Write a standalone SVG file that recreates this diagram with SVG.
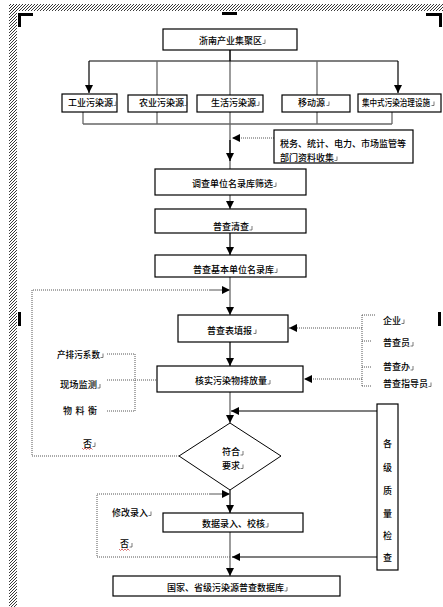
<svg xmlns="http://www.w3.org/2000/svg" width="443" height="607" viewBox="0 0 443 607">
<defs>
<pattern id="hatch" patternUnits="userSpaceOnUse" width="3" height="3">
<path d="M-1,1 L1,-1 M0,3 L3,0 M2,4 L4,2" stroke="#222" stroke-width="0.9"/>
</pattern>
<marker id="ah" viewBox="0 0 10 10" refX="10" refY="5" markerWidth="9" markerHeight="8" markerUnits="userSpaceOnUse" orient="auto">
<path d="M0,0 L10,5 L0,10 z" fill="#000"/>
</marker>
<path id="pm" d="M0,-4 V0 H-2.5" fill="none" stroke="#444" stroke-width="0.7"/>
<path id="wavy" d="M0,0 l1.5,1.5 l1.5,-1.5 l1.5,1.5 l1.5,-1.5 l1.5,1.5 l1.5,-1.5 l1.5,1.5" fill="none" stroke="#c33" stroke-width="0.7"/>
</defs>
<style>
.box{fill:#fff;stroke:#000;stroke-width:1.2}
.t{font-family:"Noto Sans CJK SC","Noto Sans",sans-serif;font-size:9px;font-weight:500;fill:#000}
.ln{fill:none;stroke:#000;stroke-width:1.2}
.gl{fill:none;stroke:#666;stroke-width:1.3}
.dt{fill:none;stroke:#555;stroke-width:1;stroke-dasharray:1 1}
</style>
<rect width="443" height="607" fill="#fff"/>
<g id="page-frame">
<rect x="10" y="4" width="433" height="7" fill="url(#hatch)"/>
<rect x="9" y="4" width="8" height="603" fill="url(#hatch)"/>
<rect x="18" y="13" width="15" height="3" fill="#000"/>
<rect x="18" y="13" width="3" height="14" fill="#000"/>
<rect x="222" y="12" width="15" height="3" fill="#000"/>
<rect x="426" y="13" width="16" height="3" fill="#000"/>
<rect x="439" y="13" width="3" height="14" fill="#000"/>
<rect x="18" y="312" width="3" height="14" fill="#000"/>
<rect x="438" y="312" width="3" height="14" fill="#000"/>
</g>
<g id="connectors">
<line class="gl" x1="230" y1="50" x2="230" y2="169"/>
<line class="ln" x1="230" y1="50" x2="230" y2="61"/>
<line class="ln" x1="89" y1="61" x2="398" y2="61"/>
<line class="ln" x1="89" y1="61" x2="89" y2="93" marker-end="url(#ah)"/>
<line class="ln" x1="398" y1="61" x2="398" y2="93" marker-end="url(#ah)"/>
<line class="gl" x1="157" y1="61" x2="157" y2="95"/>
<line class="gl" x1="317" y1="61" x2="317" y2="95"/>
<line class="gl" x1="83" y1="124" x2="392" y2="124"/>
<line class="gl" x1="83" y1="112" x2="83" y2="124"/>
<line class="gl" x1="157" y1="112" x2="157" y2="124"/>
<line class="gl" x1="317" y1="112" x2="317" y2="124"/>
<line class="gl" x1="392" y1="112" x2="392" y2="124"/>
<line class="ln" x1="230" y1="140" x2="230" y2="161" marker-end="url(#ah)"/>
<line class="dt" x1="274" y1="138" x2="232" y2="138" marker-end="url(#ah)"/>
<line class="gl" x1="230" y1="195" x2="230" y2="209" marker-end="url(#ah)"/>
<line class="ln" x1="230" y1="233" x2="230" y2="255" marker-end="url(#ah)"/>
<line class="gl" x1="230" y1="277" x2="230" y2="315" marker-end="url(#ah)"/>
<polyline class="dt" points="179,456 32,456 32,290 222,290"/>
<line class="dt" x1="210" y1="290" x2="230" y2="290" marker-end="url(#ah)"/>
<line class="ln" x1="230" y1="342" x2="230" y2="366" marker-end="url(#ah)"/>
<line class="gl" x1="230" y1="392" x2="230" y2="423" marker-end="url(#ah)"/>
<line class="ln" x1="377" y1="411" x2="231" y2="411" marker-end="url(#ah)"/>
<polyline class="dt" points="230,557 97,557 97,494 222,494"/>
<line class="dt" x1="210" y1="494" x2="230" y2="494" marker-end="url(#ah)"/>
<line class="ln" x1="230" y1="490" x2="230" y2="513" marker-end="url(#ah)"/>
<line class="gl" x1="230" y1="532" x2="230" y2="576" marker-end="url(#ah)"/>
<line class="ln" x1="377" y1="557" x2="232" y2="557" marker-end="url(#ah)"/>
<line class="dt" x1="362" y1="315" x2="362" y2="386"/>
<line class="dt" x1="362" y1="315" x2="376" y2="315"/>
<line class="dt" x1="362" y1="341" x2="372" y2="341"/>
<line class="dt" x1="362" y1="367" x2="372" y2="367"/>
<line class="dt" x1="362" y1="386" x2="372" y2="386"/>
<line class="dt" x1="362" y1="328" x2="289" y2="328" marker-end="url(#ah)"/>
<line class="dt" x1="362" y1="379" x2="304" y2="379" marker-end="url(#ah)"/>
<line class="dt" x1="107" y1="354" x2="135" y2="354"/>
<line class="dt" x1="107" y1="380" x2="157" y2="380"/>
<line class="dt" x1="107" y1="411" x2="135" y2="411"/>
<line class="dt" x1="135" y1="354" x2="135" y2="411"/>
</g>
<g id="n-top"><rect class="box" x="163" y="29" width="134" height="21"/><text class="t" x="199" y="43.5">浙南产业集聚区</text><use href="#pm" x="265" y="43.5"/></g>
<g id="n-gongye"><rect class="box" x="62" y="94" width="55" height="18"/><text class="t" x="68" y="105.5">工业污染源</text><use href="#pm" x="116" y="105.5"/></g>
<g id="n-nongye"><rect class="box" x="128" y="95" width="59" height="17"/><text class="t" x="139" y="105.5">农业污染源</text><use href="#pm" x="187" y="105.5"/></g>
<g id="n-shenghuo"><rect class="box" x="197" y="95" width="66" height="17"/><text class="t" x="211" y="105.5">生活污染源</text><use href="#pm" x="259" y="105.5"/></g>
<g id="n-yidong"><rect class="box" x="282" y="95" width="68" height="17"/><text class="t" x="298" y="105.5">移动源</text><use href="#pm" x="329" y="105.5"/></g>
<g id="n-jizhong"><rect class="box" x="358" y="94" width="83" height="18"/><text class="t" x="362" y="105.5" textLength="68" lengthAdjust="spacingAndGlyphs">集中式污染治理设施</text><use href="#pm" x="434" y="105.5"/></g>
<g id="n-shuiwu"><rect class="box" x="274" y="130" width="139" height="33"/><text class="t" x="280" y="146.5">税务、统计、电力、市场监管等</text><text class="t" x="280" y="160.5">部门资料收集</text><use href="#pm" x="337" y="160.5"/></g>
<g id="n-shaixuan"><rect class="box" x="155" y="169" width="151" height="26"/><text class="t" x="192" y="186.5">调查单位名录库筛选</text><use href="#pm" x="276" y="186.5"/></g>
<g id="n-qingcha"><rect class="box" x="155" y="209" width="151" height="24"/><text class="t" x="213" y="230">普查清查</text><use href="#pm" x="252" y="230"/></g>
<g id="n-minglu"><rect class="box" x="155" y="255" width="151" height="22"/><text class="t" x="193" y="272.5">普查基本单位名录库</text><use href="#pm" x="277" y="272.5"/></g>
<g id="n-tianbao"><rect class="box" x="178" y="315" width="110" height="27"/><text class="t" x="207" y="333.5">普查表填报</text><use href="#pm" x="256" y="333.5"/></g>
<g id="n-hesh"><rect class="box" x="157" y="366" width="146" height="26"/><text class="t" x="195" y="384">核实污染物排放量</text><use href="#pm" x="270" y="384"/></g>
<g id="l-left">
<text class="t" x="57" y="357.5" textLength="43" lengthAdjust="spacingAndGlyphs">产排污系数</text><use href="#pm" x="103" y="357.5"/>
<text class="t" x="60" y="388" textLength="37" lengthAdjust="spacingAndGlyphs">现场监测</text><use href="#pm" x="100" y="388"/>
<text class="t" x="63" y="414">物</text><text class="t" x="75.5" y="414">料</text><text class="t" x="88" y="414">衡</text>
</g>
<g id="l-right">
<text class="t" x="383" y="323.5">企业</text><use href="#pm" x="404" y="323.5"/>
<text class="t" x="383" y="346">普查员</text><use href="#pm" x="413" y="346"/>
<text class="t" x="383" y="370">普查办</text><use href="#pm" x="413" y="370"/>
<text class="t" x="383" y="386.5">普查指导员</text><use href="#pm" x="431" y="386.5"/>
</g>
<g id="n-diamond"><polygon points="230,423 281,456 230,490 179,456" fill="#fff" stroke="#000" stroke-width="1"/><text class="t" x="222" y="455">符合</text><use href="#pm" x="243" y="455"/><text class="t" x="222" y="468.5">要求</text><use href="#pm" x="243" y="468.5"/></g>
<g id="l-fou1"><text class="t" x="83" y="446.5">否</text><use href="#wavy" x="82" y="448"/><use href="#pm" x="95" y="446.5"/></g>
<g id="n-quality"><rect class="box" x="377" y="404" width="21" height="166"/>
<text class="t" x="387.5" y="446.5" text-anchor="middle">各</text>
<text class="t" x="387.5" y="470.5" text-anchor="middle">级</text>
<text class="t" x="387.5" y="493.5" text-anchor="middle">质</text>
<text class="t" x="387.5" y="516.5" text-anchor="middle">量</text>
<text class="t" x="387.5" y="538.5" text-anchor="middle">检</text>
<text class="t" x="387.5" y="560.5" text-anchor="middle">查</text>
</g>
<g id="l-xiugai"><text class="t" x="112" y="515.5">修改录入</text><use href="#pm" x="151" y="515.5"/></g>
<g id="n-luru"><rect class="box" x="163" y="513" width="140" height="19"/><text class="t" x="202" y="527">数据录入、校核</text><use href="#pm" x="268" y="527"/></g>
<g id="l-fou2"><text class="t" x="120" y="547">否</text><use href="#wavy" x="119" y="549"/><use href="#pm" x="132" y="547"/></g>
<g id="n-db"><rect class="box" x="113" y="576" width="227" height="20"/><text class="t" x="167" y="591">国家、省级污染源普查数据库</text><use href="#pm" x="287" y="591"/></g>
</svg>
